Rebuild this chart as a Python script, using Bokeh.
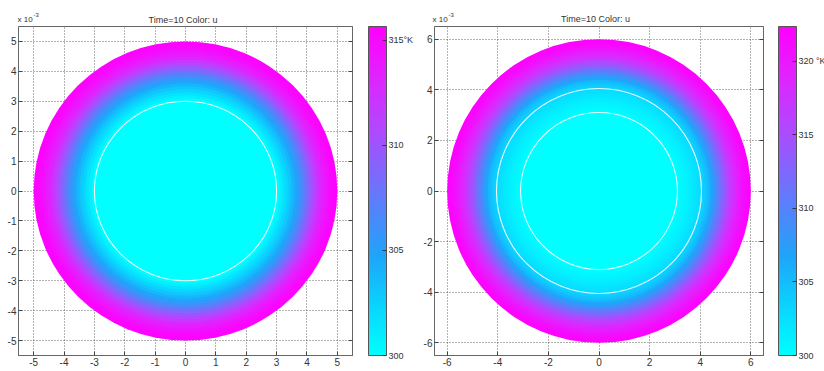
from bokeh.plotting import figure
from bokeh.models import (LinearColorMapper, ColorBar, FixedTicker, LinearAxis,
                          Label, ColumnDataSource, Range1d, CustomJSTickFormatter)
from bokeh.layouts import row, column
from bokeh.embed import file_html
from bokeh.resources import INLINE

FONT = "Liberation Sans"

# ---------------- data (lengths in units of 1e-3, temperatures in K) ----------------
title_text = "Time=10   Color: u"
scale_text = "x 10"
scale_exp = "-3"
center = (0.0, 0.0)

# left model
left_extent = 5.5
left_ticks = [-5, -4, -3, -2, -1, 0, 1, 2, 3, 4, 5]
left_outer_r = [5.0, 4.9, 4.8, 4.7, 4.6, 4.5, 4.4, 4.3, 4.2, 4.1, 4.0,
                3.9, 3.8, 3.7, 3.6, 3.5, 3.4, 3.3, 3.2, 3.1, 3.0]
left_temp = [315.5, 315.2, 314.8, 314.3, 313.7, 313.0, 312.1, 311.1, 310.0, 308.9, 307.7,
             306.6, 305.6, 304.7, 303.9, 303.1, 302.3, 301.6, 300.9, 300.3, 300.0]
left_boundaries = [3.0]
left_cb_ticks = [300, 305, 310, 315]
left_cb_labels = {315: "315°K"}
left_t_range = (300.0, 315.65)

# right model
right_extent = 6.5
right_ticks = [-6, -4, -2, 0, 2, 4, 6]
right_outer_r = [6.0, 5.9, 5.8, 5.7, 5.6, 5.5, 5.4, 5.3, 5.2, 5.1, 5.0,
                 4.9, 4.8, 4.7, 4.6, 4.5, 4.4, 4.3, 4.2, 4.1, 4.0,
                 3.9, 3.8, 3.7, 3.6, 3.5, 3.4, 3.3, 3.2, 3.1]
right_temp = [322.1, 321.7, 321.2, 320.6, 319.9, 319.1, 318.2, 317.2, 316.1, 314.9, 313.6,
              312.2, 310.8, 309.4, 308.0, 306.7, 305.5, 304.5, 303.7, 303.1, 302.6,
              302.2, 301.9, 301.6, 301.3, 301.0, 300.7, 300.5, 300.2, 300.0]
right_boundaries = [3.1, 4.05]
right_cb_ticks = [300, 305, 310, 315, 320]
right_cb_labels = {320: "320 °K"}
right_t_range = (300.0, 322.35)

# colour map anchors (cyan -> blue -> magenta)
cmap_pos = [0.0, 0.15, 0.30, 0.50, 0.70, 0.85, 1.0]
cmap_rgb = [(0, 255, 255), (10, 212, 255), (30, 165, 250), (105, 118, 252),
            (180, 70, 255), (225, 35, 255), (255, 0, 255)]

# ---------------- layout (pixels) ----------------
HEADER_H = 23
L_BORDER, L_FRAME_W, L_FRAME_H, L_TOP, L_BOTTOM = 18, 334, 329, 3, 15
R_BORDER, R_FRAME_W, R_FRAME_H, R_TOP, R_BOTTOM = 18, 329, 329, 0, 16
P1_WIDTH_EST = 415   # left figure width as laid out by Bokeh (frame + axes + colour bar)


def build_palette(n=256):
    pal = []
    for i in range(n):
        t = i / (n - 1)
        k = 0
        while k < len(cmap_pos) - 2 and t > cmap_pos[k + 1]:
            k += 1
        f = (t - cmap_pos[k]) / (cmap_pos[k + 1] - cmap_pos[k])
        c = [int(round(a + (b - a) * f)) for a, b in zip(cmap_rgb[k], cmap_rgb[k + 1])]
        pal.append("#%02x%02x%02x" % tuple(c))
    return pal


PALETTE = build_palette()


def add_header_texts(h, frame_left, frame_w, title_baseline, scale_baseline):
    # baselines are given in pixels from the top of the page
    h.add_layout(Label(x=frame_left + frame_w / 2, y=HEADER_H - title_baseline, text=title_text,
                       text_font=FONT, text_font_size="9px", text_color="#333333",
                       text_align="center", text_baseline="alphabetic"))
    h.add_layout(Label(x=frame_left - 1, y=HEADER_H - scale_baseline, text=scale_text,
                       text_font=FONT, text_font_size="8px", text_color="#333333",
                       text_align="left", text_baseline="alphabetic"))
    h.add_layout(Label(x=frame_left + 15, y=HEADER_H - scale_baseline + 4.5, text=scale_exp,
                       text_font=FONT, text_font_size="6px", text_color="#333333",
                       text_align="left", text_baseline="alphabetic"))


def make_panel(extent, ticks, outer_r, temps, bounds, cb_ticks, cb_labels, t_range,
               frame_w, frame_h, left_border, top_border, bottom_border, gap):
    p = figure(frame_width=frame_w, frame_height=frame_h,
               x_range=Range1d(-extent, extent), y_range=Range1d(-extent, extent),
               output_backend="svg", toolbar_location=None,
               min_border=0, min_border_left=left_border, min_border_top=top_border,
               min_border_bottom=bottom_border,
               background_fill_color="white", border_fill_color="white")
    p.outline_line_color = "#666666"

    for ax in (p.xaxis[0], p.yaxis[0]):
        ax.ticker = FixedTicker(ticks=ticks)
        ax.formatter = CustomJSTickFormatter(code="return tick.toString()")
        ax.major_tick_in = 4
        ax.major_tick_out = 0
        ax.minor_tick_line_color = None
        ax.axis_line_color = "#666666"
        ax.major_tick_line_color = "#444444"
        ax.major_label_text_font = FONT
        ax.major_label_text_font_size = "10px"
        ax.major_label_text_color = "#333333"
        ax.major_label_standoff = 2

    for g in (p.xgrid[0], p.ygrid[0]):
        g.grid_line_color = "#333333"
        g.grid_line_dash = "1 2"
        g.grid_line_alpha = 0.75

    # right-side axis: inward ticks on the right edge (labels blank)
    ra = LinearAxis(ticker=FixedTicker(ticks=ticks),
                    formatter=CustomJSTickFormatter(code="return ' '"),
                    major_tick_in=4, major_tick_out=0, major_label_standoff=gap,
                    minor_tick_line_color=None, axis_line_color="#666666",
                    major_tick_line_color="#444444",
                    major_label_text_font=FONT, major_label_text_font_size="10px")
    p.add_layout(ra, "right")

    mapper = LinearColorMapper(palette=PALETTE, low=t_range[0], high=t_range[1])

    src = ColumnDataSource(dict(x=[center[0]] * len(outer_r), y=[center[1]] * len(outer_r),
                                d=[2 * r for r in outer_r], T=temps))
    p.ellipse(x="x", y="y", width="d", height="d", source=src,
              fill_color={"field": "T", "transform": mapper}, line_color=None)

    bsrc = ColumnDataSource(dict(x=[center[0]] * len(bounds), y=[center[1]] * len(bounds),
                                 d=[2 * r for r in bounds]))
    p.ellipse(x="x", y="y", width="d", height="d", source=bsrc,
              fill_color=None, line_color="white", line_width=1.1, line_alpha=0.9)

    cb = ColorBar(color_mapper=mapper, ticker=FixedTicker(ticks=cb_ticks),
                  major_label_overrides=cb_labels, width=18, margin=0, padding=0,
                  label_standoff=2, major_tick_in=4, major_tick_out=0,
                  major_tick_line_color="#333333", minor_tick_line_color=None,
                  bar_line_color="#555555", border_line_color=None,
                  background_fill_alpha=0,
                  major_label_text_font=FONT, major_label_text_font_size="9px",
                  major_label_text_color="#333333")
    p.add_layout(cb, "right")
    return p


header = figure(width=820, height=HEADER_H, x_range=Range1d(0, 820), y_range=Range1d(0, HEADER_H),
                output_backend="svg", toolbar_location=None, min_border=0,
                x_axis_location=None, y_axis_location=None,
                background_fill_color="white", border_fill_color="white")
header.outline_line_color = None
header.xgrid.visible = False
header.ygrid.visible = False
add_header_texts(header, L_BORDER, L_FRAME_W, title_baseline=19.0, scale_baseline=19.0)
add_header_texts(header, P1_WIDTH_EST + R_BORDER, R_FRAME_W, title_baseline=18.3, scale_baseline=19.0)

p1 = make_panel(left_extent, left_ticks, left_outer_r, left_temp, left_boundaries,
                left_cb_ticks, left_cb_labels, left_t_range,
                frame_w=L_FRAME_W, frame_h=L_FRAME_H, left_border=L_BORDER,
                top_border=L_TOP, bottom_border=L_BOTTOM, gap=10)
p2 = make_panel(right_extent, right_ticks, right_outer_r, right_temp, right_boundaries,
                right_cb_ticks, right_cb_labels, right_t_range,
                frame_w=R_FRAME_W, frame_h=R_FRAME_H, left_border=R_BORDER,
                top_border=R_TOP, bottom_border=R_BOTTOM, gap=9)

layout = column(header, row(p1, p2))
open("out.html", "w").write(file_html(layout, INLINE))
